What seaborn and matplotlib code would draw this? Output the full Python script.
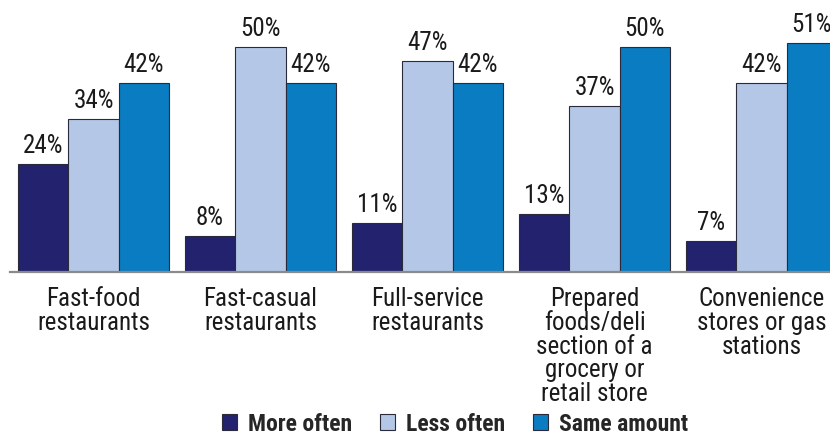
import matplotlib
matplotlib.use("Agg")
import matplotlib.pyplot as plt
from matplotlib.patches import Patch
import seaborn as sns
import pandas as pd

categories = [
    "Fast-food\nrestaurants",
    "Fast-casual\nrestaurants",
    "Full-service\nrestaurants",
    "Prepared\nfoods/deli\nsection of a\ngrocery or\nretail store",
    "Convenience\nstores or gas\nstations",
]
series = ["More often", "Less often", "Same amount"]
more_often = [24, 8, 11, 13, 7]
less_often = [34, 50, 47, 37, 42]
same_amount = [42, 42, 42, 50, 51]
colors = ["#22226f", "#b4c7e7", "#0a7cc1"]

rows = []
for name, vals in zip(series, [more_often, less_often, same_amount]):
    for cat, v in zip(categories, vals):
        rows.append({"category": cat, "series": name, "value": v})
df = pd.DataFrame(rows)

sns.set_style("white")
plt.rcParams["font.family"] = ["Roboto Condensed", "DejaVu Sans"]

W, H = 830, 435
fig = plt.figure(figsize=(W / 100, H / 100), dpi=100)
ax = fig.add_axes([10 / W, 162 / H, 835 / W, 270 / H])

sns.barplot(data=df, x="category", y="value", hue="series", order=categories,
            hue_order=series, palette=colors, width=0.905, gap=0,
            edgecolor="#2a2a3a", linewidth=0.8, saturation=1, legend=False, ax=ax)

for container in ax.containers:
    ax.bar_label(container, labels=[f"{v:.0f}%" for v in container.datavalues],
                 padding=5, fontsize=18, color="#1a1a1a")

ax.set_xlim(-0.5, 4.5)
ax.set_ylim(0, 60)
ax.set_xlabel("")
ax.set_ylabel("")
ax.set_yticks([])
for s in ["left", "right", "top"]:
    ax.spines[s].set_visible(False)
ax.spines["bottom"].set_color("#8a8a8a")
ax.spines["bottom"].set_linewidth(1.6)

ax.set_xticks(range(len(categories)))
ax.set_xticklabels(categories, fontsize=18, color="#1a1a1a", linespacing=0.99)
ax.tick_params(axis="x", which="major", length=0, pad=10)
ax.set_xticks([i - 0.5 for i in range(len(categories) + 1)], minor=True)
ax.tick_params(axis="x", which="minor", length=6, width=1.6, color="#8a8a8a",
               direction="out")

handles = [Patch(facecolor=c, edgecolor="#2a2a3a", linewidth=0.8) for c in colors]
fig.legend(handles, series, loc="center", bbox_to_anchor=(455 / W, 1 - 425 / H),
           ncol=3, frameon=False, prop={"weight": "bold", "size": 17},
           handlelength=0.64, handleheight=0.64, handletextpad=0.45,
           columnspacing=1.2, borderpad=0)

fig.savefig("out.png", dpi=100)
